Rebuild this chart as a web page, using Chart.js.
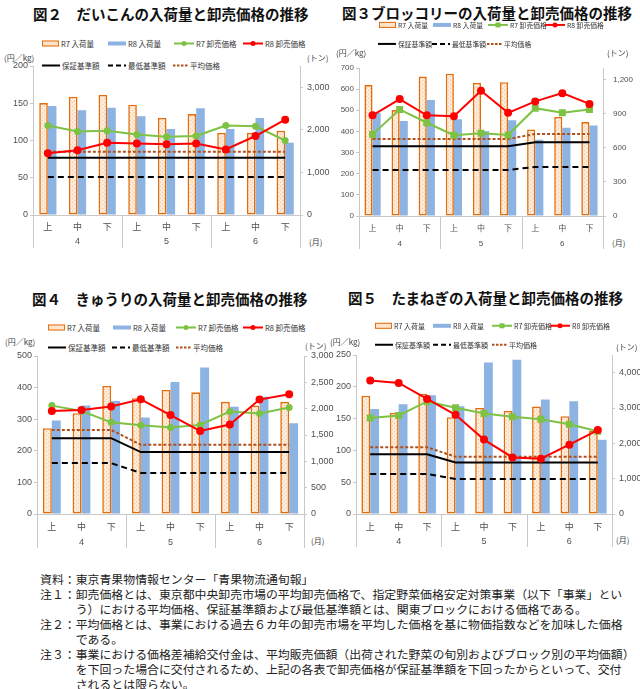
<!DOCTYPE html>
<html lang="ja">
<head>
<meta charset="utf-8">
<script src="https://cdn.jsdelivr.net/npm/chart.js@4.4.0/dist/chart.umd.min.js"></script>
<style>
  body { margin: 0; background: #fff; }
  #root { position: relative; width: 640px; height: 689px; overflow: hidden; font-family: 'Noto Sans CJK JP', sans-serif; color: #222; }
  .abs { position: absolute; white-space: nowrap; line-height: 1.2; transform: translateY(-50%); }
  .title { font-size: 14.5px; font-weight: bold; color: #111; }
  .unit { font-size: 8px; color: #404040; }
  .legend { display: flex; align-items: center; gap: 2px; color: #333; }
  .notes { position: absolute; left: 40px; top: 571px; font-size: 11.9px; line-height: 15px; color: #222; }
  .notes div { white-space: nowrap; }
  .notes .cont { padding-left: 3em; }
</style>
</head>
<body>
<div id="root"></div>
<script>
const periods = ['上', '中', '下', '上', '中', '下', '上', '中', '下'];
const months = ['4', '5', '6'];

// 図２ だいこん（価格：円/kg、入荷量：トン）
const daikonR7Volume = [2630, 2780, 2820, 2590, 2280, 2370, 1930, 1930, 1980];
const daikonR8Volume = [2560, 2460, 2520, 2320, 2020, 2510, 2020, 2280, 1700];
const daikonR7Price = [120, 112, 113, 108, 105, 106, 120, 119, 100];
const daikonR8Price = [83, 87, 97, 96, 95, 96, 88, 106, 128];
const daikonGuarantee = [77, 77, 77, 77, 77, 77, 77, 77, 77];
const daikonMinimum = [51, 51, 51, 51, 51, 51, 51, 51, 51];
const daikonAverage = [85, 85, 85, 85, 85, 85, 85, 85, 85];

// 図３ ブロッコリー
const broccoliR7Volume = [1150, 930, 1225, 1250, 1170, 1175, 760, 870, 825];
const broccoliR8Volume = [905, 835, 1020, 850, 745, 840, 670, 775, 795];
const broccoliR7Price = [386, 504, 441, 382, 391, 383, 510, 488, 504];
const broccoliR8Price = [476, 553, 476, 472, 592, 488, 542, 581, 530];
const broccoliGuarantee = [330, 330, 330, 330, 330, 330, 349, 349, 349];
const broccoliMinimum = [218, 218, 218, 218, 218, 218, 232, 232, 232];
const broccoliAverage = [364, 364, 364, 364, 364, 364, 388, 388, 388];

// 図４ きゅうり
const kyuriR7Volume = [1630, 1915, 2430, 2200, 2355, 2310, 2130, 2060, 2130];
const kyuriR8Volume = [1775, 2060, 2145, 1830, 2505, 2780, 2035, 2225, 1725];
const kyuriR7Price = [343, 326, 290, 281, 274, 282, 324, 318, 337];
const kyuriR8Price = [326, 329, 340, 363, 313, 263, 283, 362, 379];
const kyuriGuarantee = [240, 240, 240, 196, 196, 196, 196, 196, 196];
const kyuriMinimum = [161, 161, 161, 130, 130, 130, 130, 130, 130];
const kyuriAverage = [266, 266, 266, 219, 219, 219, 219, 219, 219];

// 図５ たまねぎ
const tamanegiR7Volume = [3350, 2860, 3400, 2740, 3000, 2920, 3040, 2770, 2355];
const tamanegiR8Volume = [2975, 3105, 3360, 3050, 4290, 4365, 3240, 3190, 2100];
const tamanegiR7Price = [151, 155, 177, 167, 158, 153, 149, 141, 130];
const tamanegiR8Price = [210, 206, 181, 156, 117, 89, 87, 109, 132];
const tamanegiGuarantee = [94, 94, 94, 81, 81, 81, 81, 81, 81];
const tamanegiMinimum = [63, 63, 63, 55, 55, 55, 55, 55, 55];
const tamanegiAverage = [105, 105, 105, 90, 90, 90, 90, 90, 90];

const notes = [
    ['資料：東京青果物情報センター「青果物流通旬報」'],
    ['注１：卸売価格とは、東京都中央卸売市場の平均卸売価格で、指定野菜価格安定対策事業（以下「事業」とい',
     'う）における平均価格、保証基準額および最低基準額とは、関東ブロックにおける価格である。'],
    ['注２：平均価格とは、事業における過去６カ年の卸売市場を平均した価格を基に物価指数などを加味した価格',
     'である。'],
    ['注３：事業における価格差補給交付金は、平均販売価額（出荷された野菜の旬別およびブロック別の平均価額）',
     'を下回った場合に交付されるため、上記の各表で卸売価格が保証基準額を下回ったからといって、交付',
     'されるとは限らない。']
];

const ORANGE = '#e46c0a';
const BLUE = '#8db3e2';
const GREEN = '#7dc242';
const RED = '#ff0000';
const AVG = '#b0501f';
const AXIS = '#c8c8c8';
const TICK = '#505050';
const CJK = "'Noto Sans CJK JP', sans-serif";
const NUM = "'Liberation Sans', Arial, sans-serif";

const root = document.getElementById('root');

function dotPattern() {
    const c = document.createElement('canvas');
    c.width = 4; c.height = 4;
    const g = c.getContext('2d');
    g.fillStyle = '#fdebd9';
    g.fillRect(0, 0, 4, 4);
    g.fillStyle = '#f5c49a';
    g.fillRect(0, 0, 1, 1);
    g.fillRect(2, 2, 1, 1);
    return g.createPattern(c, 'repeat');
}

function addText(text, x, y, cls, size) {
    const el = document.createElement('div');
    el.className = 'abs ' + (cls || '');
    el.textContent = text;
    el.style.left = x + 'px';
    el.style.top = y + 'px';
    if (size) el.style.fontSize = size + 'px';
    root.appendChild(el);
    return el;
}

function swatchHtml(s) {
    if (s.kind === 'box') {
        const border = s.border ? `border:1.5px solid ${s.border};` : '';
        return `<span style="display:inline-block;width:${s.w}px;height:4px;background:${s.fill};${border}"></span>`;
    }
    const dash = s.dash ? `stroke-dasharray="${s.dash.join(' ')}"` : '';
    let marker = '';
    if (s.marker === 'circle') marker = `<circle cx="10" cy="4" r="2.5" fill="${s.color}"/>`;
    if (s.marker === 'rect') marker = `<rect x="7.5" y="1.5" width="5" height="5" fill="${s.color}"/>`;
    return `<svg width="${s.w}" height="8" style="display:block"><line x1="0" y1="4" x2="${s.w}" y2="4" stroke="${s.color}" stroke-width="2" ${dash}/>${marker}</svg>`;
}

// month labels and separators under the 上中下 row
const monthDivider = {
    id: 'monthDivider',
    afterDraw(chart, args, opts) {
        const x = chart.scales.x;
        const ctx = chart.ctx;
        const per = periods.length / months.length;
        const w = (x.right - x.left) / periods.length;
        ctx.save();
        ctx.strokeStyle = AXIS;
        ctx.lineWidth = 1;
        for (let i = 0; i <= months.length; i++) {
            const px = Math.round(x.left + i * per * w) + 0.5;
            ctx.beginPath();
            ctx.moveTo(px, x.top);
            ctx.lineTo(px, x.top + opts.sepLen);
            ctx.stroke();
        }
        ctx.fillStyle = TICK;
        ctx.font = `${opts.size}px ${NUM}`;
        ctx.textAlign = 'center';
        ctx.textBaseline = 'middle';
        months.forEach((m, i) => {
            ctx.fillText(m, x.getPixelForValue(i * per + Math.floor(per / 2)), x.top + opts.monthOffset);
        });
        ctx.restore();
    }
};

function fixedTicks(max, step) {
    const ticks = [];
    for (let v = 0; v <= max + 1e-9; v += step) ticks.push({ value: v });
    return ticks;
}

class PricePanel {
    constructor(p) {
        this.p = p;
        this.drawTexts();
        this.drawLegend();
        this.drawChart();
    }

    drawTexts() {
        const p = this.p;
        addText(p.title, p.titlePos.x, p.titlePos.y, 'title');
        addText('(円／kg)', p.unitLeft.x, p.unitLeft.y, 'unit');
        addText('(トン)', p.unitRight.x, p.unitRight.y, 'unit');
        addText('(月)', p.unitMonth.x, p.unitMonth.y, 'unit');
    }

    drawLegend() {
        const p = this.p;
        const rows = [
            [
                { label: 'R7 入荷量', kind: 'box', w: 15, fill: '#fde4cc', border: ORANGE },
                { label: 'R8 入荷量', kind: 'box', w: 18, fill: BLUE },
                { label: 'R7 卸売価格', kind: 'line', w: 20, color: GREEN, marker: p.greenMarker },
                { label: 'R8 卸売価格', kind: 'line', w: 20, color: RED, marker: 'circle' }
            ],
            [
                { label: '保証基準額', kind: 'line', w: 18, color: '#000' },
                { label: '最低基準額', kind: 'line', w: 18, color: '#000', dash: [5, 3] },
                { label: '平均価格', kind: 'line', w: 15, color: AVG, dash: [2.5, 1.5] }
            ]
        ];
        rows.forEach((row, r) => {
            row.forEach((item, i) => {
                const el = document.createElement('div');
                el.className = 'abs legend';
                el.style.left = p.legendX[r][i] + 'px';
                el.style.top = p.legendY[r] + 'px';
                el.style.fontSize = p.legendSize + 'px';
                el.innerHTML = swatchHtml(item) + `<span>${item.label}</span>`;
                root.appendChild(el);
            });
        });
    }

    drawChart() {
        const p = this.p;
        const cv = document.createElement('canvas');
        cv.width = p.canvas.w;
        cv.height = p.canvas.h;
        cv.style.cssText = `position:absolute;left:${p.canvas.x}px;top:${p.canvas.y}px`;
        root.appendChild(cv);

        const padTop = p.area.t - p.canvas.y;
        const leftW = p.area.l - p.canvas.x;
        const rightW = p.canvas.x + p.canvas.w - p.area.r;
        const xH = p.canvas.y + p.canvas.h - p.area.b;
        const tickFont = { family: NUM, size: p.tickSize };

        new Chart(cv, {
            data: {
                labels: periods,
                datasets: [
                    { type: 'bar', label: 'R7 入荷量', data: p.r7Volume, yAxisID: 'y1',
                      backgroundColor: dotPattern(), borderColor: ORANGE, borderWidth: 1.6, borderSkipped: false,
                      categoryPercentage: p.barPct, barPercentage: 1, order: 5 },
                    { type: 'bar', label: 'R8 入荷量', data: p.r8Volume, yAxisID: 'y1',
                      backgroundColor: BLUE, borderWidth: 0,
                      categoryPercentage: p.barPct, barPercentage: 1, order: 5 },
                    { type: 'line', label: '保証基準額', data: p.guarantee, yAxisID: 'y',
                      borderColor: '#000', borderWidth: 2, pointRadius: 0, order: 3 },
                    { type: 'line', label: '最低基準額', data: p.minimum, yAxisID: 'y',
                      borderColor: '#000', borderWidth: 2, borderDash: [6, 4], pointRadius: 0, order: 3 },
                    { type: 'line', label: '平均価格', data: p.average, yAxisID: 'y',
                      borderColor: AVG, borderWidth: 2, borderDash: [3, 2], pointRadius: 0, order: 3 },
                    { type: 'line', label: 'R7 卸売価格', data: p.r7Price, yAxisID: 'y',
                      borderColor: GREEN, backgroundColor: GREEN, borderWidth: 2,
                      pointStyle: p.greenMarker, pointRadius: p.greenMarker === 'rect' ? 3.5 : 2.5, order: 2 },
                    { type: 'line', label: 'R8 卸売価格', data: p.r8Price, yAxisID: 'y',
                      borderColor: RED, backgroundColor: RED, borderWidth: 2,
                      pointStyle: 'circle', pointRadius: 3, order: 1 }
                ]
            },
            options: {
                responsive: false,
                animation: false,
                layout: { padding: { top: padTop, left: 0, right: 0, bottom: 0 } },
                plugins: {
                    legend: { display: false },
                    tooltip: { enabled: false },
                    monthDivider: { sepLen: p.sepLen, monthOffset: p.monthOffset, size: p.tickSize }
                },
                scales: {
                    x: {
                        grid: { display: false, drawTicks: false },
                        border: { color: AXIS },
                        ticks: { color: TICK, font: { family: CJK, size: p.tickSize }, padding: p.catPad,
                                 maxRotation: 0, autoSkip: false },
                        afterFit: (s) => { s.height = xH; }
                    },
                    y: {
                        position: 'left',
                        min: 0,
                        max: p.priceMax,
                        ticks: { color: TICK, font: tickFont, padding: 2, autoSkip: false },
                        afterBuildTicks: (s) => { s.ticks = fixedTicks(p.priceMax, p.priceStep); },
                        grid: { display: true, drawOnChartArea: false, tickLength: 3, color: AXIS },
                        border: { color: AXIS },
                        afterFit: (s) => { s.width = leftW; }
                    },
                    y1: {
                        position: 'right',
                        min: 0,
                        max: p.volumeMax,
                        ticks: { color: TICK, font: tickFont, padding: p.rightPad, autoSkip: false,
                                 callback: (v) => v.toLocaleString('en-US') },
                        afterBuildTicks: (s) => { s.ticks = fixedTicks(p.volumeMax, p.volumeStep); },
                        grid: { display: true, drawOnChartArea: false, tickLength: 3, color: AXIS },
                        border: { color: AXIS },
                        afterFit: (s) => { s.width = rightW; }
                    }
                }
            },
            plugins: [monthDivider]
        });
    }
}

const panels = [
    {
        title: '図２　だいこんの入荷量と卸売価格の推移',
        r7Volume: daikonR7Volume, r8Volume: daikonR8Volume,
        r7Price: daikonR7Price, r8Price: daikonR8Price,
        guarantee: daikonGuarantee, minimum: daikonMinimum, average: daikonAverage,
        priceMax: 200, priceStep: 50, volumeMax: 3500, volumeStep: 1000,
        greenMarker: 'circle',
        titlePos: { x: 33, y: 14 },
        legendY: [43, 65], legendX: [[42, 108, 174, 243], [42, 108, 173]], legendSize: 7.5,
        unitLeft: { x: 4, y: 58 }, unitRight: { x: 307, y: 58 }, unitMonth: { x: 309, y: 242 },
        canvas: { x: 0, y: 50, w: 340, h: 205 },
        area: { l: 33, t: 66, r: 300, b: 215 },
        tickSize: 9, catPad: 6, rightPad: 4, monthOffset: 27, sepLen: 33, barPct: 0.58
    },
    {
        title: '図３ブロッコリーの入荷量と卸売価格の推移',
        r7Volume: broccoliR7Volume, r8Volume: broccoliR8Volume,
        r7Price: broccoliR7Price, r8Price: broccoliR8Price,
        guarantee: broccoliGuarantee, minimum: broccoliMinimum, average: broccoliAverage,
        priceMax: 700, priceStep: 100, volumeMax: 1300, volumeStep: 300,
        greenMarker: 'rect',
        titlePos: { x: 342, y: 13 },
        legendY: [24.5, 43.5], legendX: [[379, 433, 488, 545], [378, 432, 487]], legendSize: 6.8,
        unitLeft: { x: 336, y: 53 }, unitRight: { x: 607, y: 53 }, unitMonth: { x: 612, y: 243 },
        canvas: { x: 320, y: 50, w: 320, h: 205 },
        area: { l: 359, t: 68, r: 603, b: 216 },
        tickSize: 8, catPad: 7, rightPad: 7, monthOffset: 28, sepLen: 33, barPct: 0.6
    },
    {
        title: '図４　きゅうりの入荷量と卸売価格の推移',
        r7Volume: kyuriR7Volume, r8Volume: kyuriR8Volume,
        r7Price: kyuriR7Price, r8Price: kyuriR8Price,
        guarantee: kyuriGuarantee, minimum: kyuriMinimum, average: kyuriAverage,
        priceMax: 500, priceStep: 100, volumeMax: 3000, volumeStep: 500,
        greenMarker: 'circle',
        titlePos: { x: 32, y: 299 },
        legendY: [327, 347], legendX: [[48, 113, 176, 243], [48, 112, 176]], legendSize: 7.5,
        unitLeft: { x: 5, y: 342 }, unitRight: { x: 305, y: 346 }, unitMonth: { x: 311, y: 541 },
        canvas: { x: 0, y: 345, w: 340, h: 210 },
        area: { l: 37, t: 356, r: 304, b: 514 },
        tickSize: 9, catPad: 7, rightPad: 4, monthOffset: 29, sepLen: 34, barPct: 0.6
    },
    {
        title: '図５　たまねぎの入荷量と卸売価格の推移',
        r7Volume: tamanegiR7Volume, r8Volume: tamanegiR8Volume,
        r7Price: tamanegiR7Price, r8Price: tamanegiR8Price,
        guarantee: tamanegiGuarantee, minimum: tamanegiMinimum, average: tamanegiAverage,
        priceMax: 250, priceStep: 50, volumeMax: 4500, volumeStep: 1000,
        greenMarker: 'rect',
        titlePos: { x: 348, y: 298 },
        legendY: [326, 344.5], legendX: [[375, 433, 492, 550], [375, 433, 492]], legendSize: 7,
        unitLeft: { x: 330, y: 342 }, unitRight: { x: 616, y: 347 }, unitMonth: { x: 616, y: 540 },
        canvas: { x: 320, y: 345, w: 320, h: 210 },
        area: { l: 356, t: 355, r: 612, b: 514 },
        tickSize: 9, catPad: 7, rightPad: 4, monthOffset: 28, sepLen: 33, barPct: 0.62
    }
];

panels.forEach((p) => new PricePanel(p));

const notesEl = document.createElement('div');
notesEl.className = 'notes';
notes.forEach((lines) => {
    lines.forEach((line, i) => {
        const d = document.createElement('div');
        if (i > 0) d.className = 'cont';
        d.textContent = line;
        notesEl.appendChild(d);
    });
});
root.appendChild(notesEl);
</script>
</body>
</html>
